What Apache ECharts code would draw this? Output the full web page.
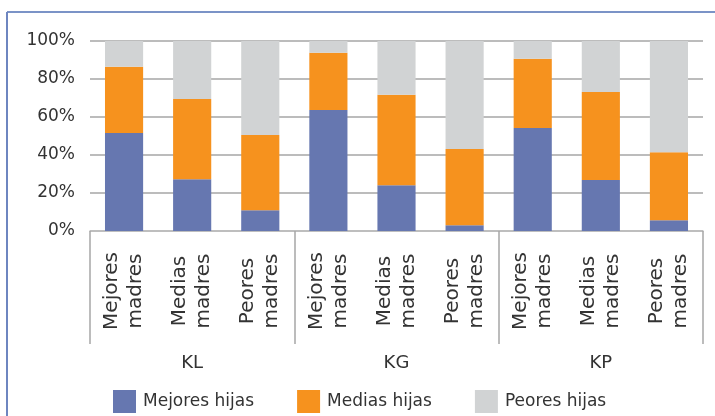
<!DOCTYPE html>
<html><head><meta charset="utf-8">
<script src="https://cdn.jsdelivr.net/npm/echarts@6/dist/echarts.min.js"></script>
<style>html,body{margin:0;padding:0;background:#fff}#c{width:715px;height:416px}</style>
</head><body><div id="c"></div>
<script>
const categories = ["Mejores\nmadres","Medias\nmadres","Peores\nmadres","Mejores\nmadres","Medias\nmadres","Peores\nmadres","Mejores\nmadres","Medias\nmadres","Peores\nmadres"];
const groups = ["KL","KG","KP"];
const seriesNames = ["Mejores hijas","Medias hijas","Peores hijas"];
const mejoresHijas = [51.6,27.3,10.9,63.7,24.1,3.0,54.2,26.8,5.6];
const mediasHijas = [34.8,42.2,39.6,30.1,47.6,40.1,36.5,46.4,35.9];
const peoresHijas = [13.6,30.5,49.5,6.2,28.3,56.9,9.3,26.8,58.5];
const yTicks = [0,20,40,60,80,100];
const colors = ["#6677B0","#F6921E","#D1D3D4"];

const FONT = "DejaVu Sans";
const chart = echarts.init(document.getElementById('c'), null, {renderer:'canvas'});
const vals = [mejoresHijas, mediasHijas, peoresHijas];
chart.setOption({
  animation:false,
  textStyle:{fontFamily:FONT},
  color: colors,
  grid:{left:90,right:12,top:41,bottom:185},
  legend:{
    data: seriesNames, left:113, top:390, padding:0, itemWidth:23, itemHeight:23, itemGap:43,
    icon:'rect',
    textStyle:{fontFamily:FONT,fontSize:17,color:'#333',padding:[0,0,0,2]}
  },
  xAxis:[{
    type:'category', data:categories, position:'bottom',
    axisLine:{show:true,lineStyle:{color:'#BFBFBF',width:1.5}},
    axisTick:{show:false},
    axisLabel:{interval:0,rotate:90,align:'center',verticalAlign:'middle',margin:60,
      fontFamily:FONT,fontSize:20,lineHeight:24,color:'#333'}
  },{
    type:'category', data:groups, position:'bottom', offset:113,
    axisLine:{show:false},
    axisTick:{show:true,inside:true,length:113,interval:0,lineStyle:{color:'#A6A6A6',width:1.5}},
    axisLabel:{interval:0,margin:10,fontFamily:FONT,fontSize:18,color:'#333'}
  }],
  yAxis:{
    type:'value', min:0, max:100, interval:20,
    axisLabel:{formatter:'{value}%',margin:15,fontFamily:FONT,fontSize:17,color:'#333'},
    axisLine:{show:false}, axisTick:{show:false},
    splitLine:{lineStyle:{color:'#A6A6A6',width:1.5}}
  },
  series: seriesNames.map((n,i)=>({
    name:n, type:'bar', stack:'total', data:vals[i], barWidth:'56%', xAxisIndex:0
  })),
  graphic:[
    {type:'line',shape:{x1:7,y1:12,x2:715,y2:12},style:{stroke:'#4F6FB5',lineWidth:1.5},silent:true},
    {type:'line',shape:{x1:7,y1:12,x2:7,y2:416},style:{stroke:'#6E86C0',lineWidth:2},silent:true}
  ]
});
</script></body></html>
